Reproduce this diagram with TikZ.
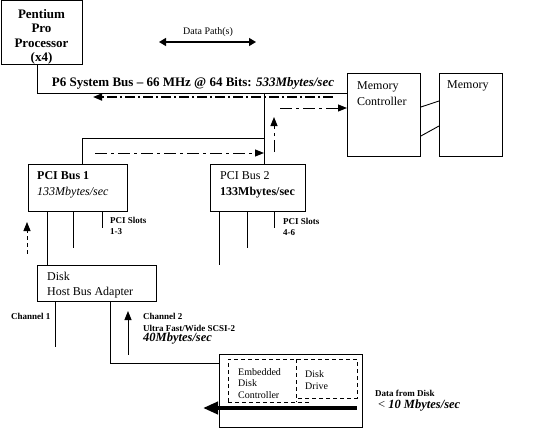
\documentclass[tikz,border=0pt]{standalone}
\usepackage{fontspec}
\setmainfont{Liberation Serif}
\usetikzlibrary{arrows.meta,calc}
\tikzset{
  box/.style={draw, line width=0.9pt, inner sep=0pt, anchor=north west},
  lbl/.style={inner sep=0pt, anchor=west, align=left},
  ln/.style={line width=0.9pt},
  tipa/.style={-{Triangle[length=9pt,width=7pt]}},
  dda/.style={line width=1.8pt, dash pattern=on 10pt off 3pt on 2pt off 3pt},
  ddb/.style={line width=1pt, dash pattern=on 12pt off 4pt on 3pt off 4pt},
  dsh/.style={line width=0.8pt, dash pattern=on 4pt off 3pt},
  small/.style={font=\bfseries\fontsize{9}{11.5}\selectfont},
  norm/.style={font=\fontsize{12}{16}\selectfont},
}
\begin{document}
\begin{tikzpicture}[x=1pt,y=-1pt]
\useasboundingbox[fill=white] (0,0) rectangle (533,428);
% boxes
\node[box, minimum width=81pt, minimum height=63.5pt] (proc) at (1,0.5) {};
\node[box, minimum width=73pt, minimum height=83pt] (mc) at (347,73) {};
\node[box, minimum width=63pt, minimum height=83pt] (mem) at (439,73) {};
\node[box, minimum width=99pt, minimum height=47pt] (pci1) at (28,164) {};
\node[box, minimum width=95pt, minimum height=47pt] (pci2) at (210,164) {};
\node[box, minimum width=119pt, minimum height=36pt] (hba) at (37,265) {};
\node[box, minimum width=143pt, minimum height=72.5pt] (disk) at (219,354) {};
% texts
\node[inner sep=0pt, align=center, font=\bfseries\fontsize{13}{14.5}\selectfont] (proct) at (41.5,37) {Pentium\\Pro\\Processor\\(x4)};
\node[lbl, norm] (mct) at (357,94) {Memory\\Controller};
\node[lbl, norm] (memt) at (447,86) {Memory};
\node[lbl, font=\fontsize{12}{16}\selectfont] (pci1t) at (37,185) {\textbf{PCI Bus 1}\\\textit{133Mbytes/sec}};
\node[lbl, font=\fontsize{12}{16}\selectfont] (pci2t) at (220,185) {PCI Bus 2\\\textbf{133Mbytes/sec}};
\node[lbl, font=\fontsize{12}{15}\selectfont] (hbat) at (47,285) {Disk\\Host Bus Adapter};
\node[lbl, small] (s13) at (110,226) {PCI Slots\\1-3};
\node[lbl, small] (s46) at (283,227) {PCI Slots\\4-6};
\node[lbl, small] (ch1) at (11,316) {Channel 1};
\node[lbl, small] (ch2) at (143,322.5) {Channel 2\\Ultra Fast/Wide SCSI-2};
\node[lbl, font=\bfseries\itshape\fontsize{12.5}{14}\selectfont] (ch2r) at (143,339) {40Mbytes/sec};
\node[lbl, font=\fontsize{10}{11.5}\selectfont] (emb) at (238,383.5) {Embedded\\Disk\\Controller};
\node[lbl, font=\fontsize{10}{12}\selectfont] (drv) at (305,380) {Disk\\Drive};
\node[lbl, small] (dfd) at (375,393) {Data from Disk};
\node[lbl, font=\fontsize{12.5}{14}\selectfont] (dfr) at (378,406) {< \textbf{\itshape 10 Mbytes/sec}};
\node[inner sep=0pt, font=\fontsize{10}{12}\selectfont] (dpt) at (208,32) {Data Path(s)};
\node[inner sep=0pt, font=\bfseries\fontsize{13}{14}\selectfont] (bust) at (193,83) {P6 System Bus -- 66 MHz @ 64 Bits: \textit{533Mbytes/sec}};
% coordinates
\coordinate (dpl) at (159,42);
\coordinate (dpr) at (256,42);
\coordinate (j) at (264,93);
% connectors
\draw[ln] (proc.south -| 37,0) |- (mc.west |- 0,93);
\draw[ln] (j) -- (pci2.north -| j);
\draw[ln] (pci1.north -| 82,0) |- (j |- 0,138);
\draw[ln] (mc.east |- 0,107) -- (mem.west |- 0,101);
\draw[ln] (mc.east |- 0,136) -- (mem.west |- 0,126);
% PCI slots
\draw[ln] (pci1.south -| 47,0) -- (hba.north -| 47,0);
\draw[ln] (pci1.south -| 73,0) -- ++(0,36);
\draw[ln] (pci1.south -| 102,0) -- ++(0,16);
\draw[ln] (pci2.south -| 219,0) -- ++(0,53);
\draw[ln] (pci2.south -| 247,0) -- ++(0,36);
\draw[ln] (pci2.south -| 274,0) -- ++(0,16);
% channels
\draw[ln] (hba.south -| 55,0) -- ++(0,45);
\draw[ln] (hba.south -| 110,0) |- (disk.west |- 0,363);
% data path arrows
\draw[line width=1.4pt, {Triangle[length=7pt,width=8pt]}-{Triangle[length=7pt,width=8pt]}] (dpl) -- (dpr);
\draw[dda, tipa] (mc.west |- 0,97) ++(-14,0) -- ++(-240,0);
\draw[ddb, tipa] (j |- 0,108) ++(16,0) -- (mc.west |- 0,108);
\draw[ddb, tipa] (pci1.north -| 95,0) ++(0,-11) -- (j |- 0,153);
\draw[ddb, tipa] (pci2.north -| 274,0) ++(0,-12) -- (274,117);
\draw[dsh, tipa] (pci1.south -| 27,0) ++(0,42) -- (27,222);
\draw[line width=1pt, tipa] (hba.south -| 128,0) ++(0,53) -- (128,311);
% disk internals
\draw[dsh] (228,402) -- (228,359) -- (357,359) -- (357,398) -- (296,398);
\draw[dsh] (228,402) -- (309,402);
\draw[dsh] (296,359) -- (296,402);
\draw[line width=4pt, -{Triangle[length=15pt,width=12pt]}] (disk.east |- 0,408) ++(-6,0) -- (203,408);
\end{tikzpicture}
\end{document}
